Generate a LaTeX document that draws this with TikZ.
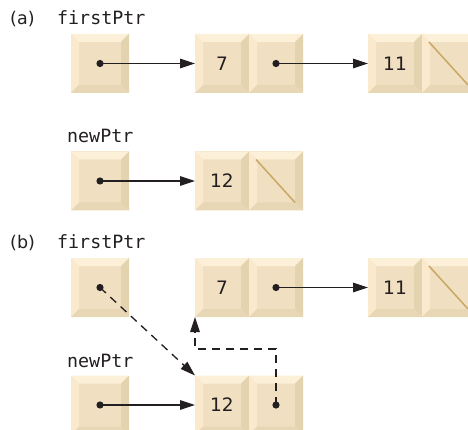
\documentclass[tikz,border=0pt]{standalone}
\usepackage{fontspec}
\usepackage{xcolor}
\usepackage{tikz}
\usetikzlibrary{arrows.meta,positioning}
\newfontfamily\codefont{DejaVu Sans Mono}
\newfontfamily\numfont{DejaVu Sans}
\definecolor{bevTop}{HTML}{FDF0D9}
\definecolor{bevLeft}{HTML}{FBE9CD}
\definecolor{bevRight}{HTML}{E4D3AF}
\definecolor{bevBottom}{HTML}{E8D7B4}
\definecolor{cellFace}{HTML}{F1DFC1}
\definecolor{nullLine}{HTML}{C9A764}
\definecolor{inkDark}{HTML}{231F20}
% bevelled look of one cell, drawn inside the node
\newcommand\bevelfill{%
  \path (path picture bounding box.north west) coordinate (pNW)
        (path picture bounding box.north east) coordinate (pNE)
        (path picture bounding box.south west) coordinate (pSW)
        (path picture bounding box.south east) coordinate (pSE);
  \fill[bevLeft] (pNW) -- ([shift={(8pt,-8pt)}]pNW) -- ([shift={(8pt,8pt)}]pSW) -- (pSW) -- cycle;
  \fill[bevTop] (pNW) -- (pNE) -- ([shift={(-8pt,-8pt)}]pNE) -- ([shift={(8pt,-8pt)}]pNW) -- cycle;
  \fill[bevRight] (pNE) -- (pSE) -- ([shift={(-8pt,8pt)}]pSE) -- ([shift={(-8pt,-8pt)}]pNE) -- cycle;
  \fill[bevBottom] (pSW) -- (pSE) -- ([shift={(-8pt,8pt)}]pSE) -- ([shift={(8pt,8pt)}]pSW) -- cycle;}
\newcommand\nullslash{%
  \draw[nullLine, line width=1.5pt] ([shift={(7pt,-8pt)}]pNW) -- ([shift={(-8pt,8pt)}]pSE);}
\tikzset{
  cell/.style={rectangle, minimum width=54pt, minimum height=59pt, inner sep=0pt, outer sep=0pt,
    fill=cellFace, text=inkDark, font=\numfont\fontsize{18.5}{20}\selectfont, path picture={\bevelfill}},
  nullcell/.style={cell, path picture={\bevelfill\nullslash}},
  ptrbox/.style={cell, minimum width=58pt},
  code/.style={anchor=base west, inner sep=0pt, text=inkDark, font=\codefont\fontsize{18.3}{20}\selectfont},
  tag/.style={anchor=base west, inner sep=0pt, text=inkDark, font=\numfont\fontsize{17.5}{20}\selectfont},
  ptr/.style={draw=inkDark, line width=1.3pt, -{Triangle[length=15pt,width=9.5pt]}},
  dashptr/.style={ptr, dash pattern=on 8pt off 6pt},
}

\begin{document}
\begin{tikzpicture}[x=1pt, y=-1pt]
\clip (0,0) rectangle (468,430);
\begin{scope}
  \node[tag] (aTag) at (10,25) {(a)};
  \node[code] (aFirstLbl) at (57,25) {firstPtr};
  \node[ptrbox] (aFirst) at (100,63.5) {};
  \node[cell] (a7) at (222,63.5) {7};
  \node[cell, right=0pt of a7] (a7p) {};
  \node[cell] (a11) at (395,63.5) {11};
  \node[nullcell, right=0pt of a11] (a11n) {};
  \node[code] (aNewLbl) at (67,143) {newPtr};
  \node[ptrbox] (aNew) at (100,181) {};
  \node[cell] (a12) at (222,181) {12};
  \node[nullcell, right=0pt of a12] (a12n) {};
  \draw[ptr] (aFirst.center) -- (a7.west);
  \draw[ptr] (a7p.center) -- (a11.west);
  \draw[ptr] (aNew.center) -- (a12.west);
  \foreach \n in {aFirst,a7p,aNew}{\fill[inkDark] (\n.center) circle (3.6pt);}
\end{scope}
\begin{scope}[shift={(0,224)}]
  \node[tag] (bTag) at (10,24) {(b)};
  \node[code] (bFirstLbl) at (57,24) {firstPtr};
  \node[ptrbox] (bFirst) at (100,63.5) {};
  \node[cell] (b7) at (222,63.5) {7};
  \node[cell, right=0pt of b7] (b7p) {};
  \node[cell] (b11) at (395,63.5) {11};
  \node[nullcell, right=0pt of b11] (b11n) {};
  \node[code] (bNewLbl) at (67,143) {newPtr};
  \node[ptrbox] (bNew) at (100,181) {};
  \node[cell] (b12) at (222,181) {12};
  \node[cell, right=0pt of b12] (b12p) {};
  \draw[ptr] (b7p.center) -- (b11.west);
  \draw[ptr] (bNew.center) -- (b12.west);
  \draw[dashptr] (bFirst.center) -- (b12.north west);
  \draw[dashptr] (b12p.center) -- ++(0,-56) -| (b7.south west);
  \foreach \n in {bFirst,b7p,bNew,b12p}{\fill[inkDark] (\n.center) circle (3.6pt);}
\end{scope}
\end{tikzpicture}
\end{document}
